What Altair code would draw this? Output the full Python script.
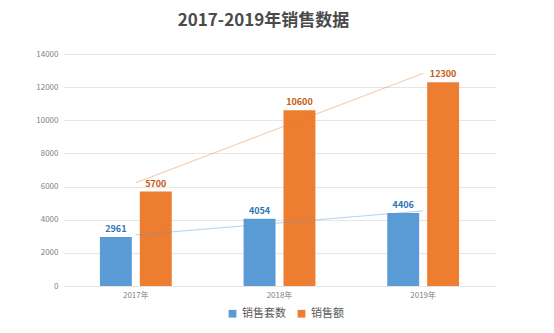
import altair as alt
import pandas as pd

years = [2017, 2018, 2019]
series_names = ["销售套数", "销售额"]
units_sold = [2961, 4054, 4406]
sales_amount = [5700, 10600, 12300]
colors = ["#5b9bd5", "#ed7d31"]
label_colors = ["#2e75b6", "#c55a11"]

rows = []
for i, y in enumerate(years):
    rows.append({"year": y, "series": series_names[0], "value": units_sold[i], "order": 0})
    rows.append({"year": y, "series": series_names[1], "value": sales_amount[i], "order": 1})
df = pd.DataFrame(rows)

font = "Noto Sans CJK SC"

x = alt.X("year:O", title=None,
          scale=alt.Scale(paddingInner=0.5, paddingOuter=0.25),
          axis=alt.Axis(labelExpr="datum.label + '年'", labelAngle=0, ticks=False,
                        domain=False, grid=False, labelFontSize=8, labelColor="#7f7f7f",
                        labelPadding=5, labelFont=font))
xoff = alt.XOffset("series:N", sort=series_names,
                   scale=alt.Scale(paddingInner=0.2, paddingOuter=0))
y = alt.Y("value:Q", title=None,
          scale=alt.Scale(domain=[0, 14000]),
          axis=alt.Axis(values=list(range(0, 14001, 2000)), format="d", ticks=False, domain=False,
                        labelFontSize=8, labelColor="#7f7f7f", labelPadding=6,
                        gridColor="#e6e6e6", labelFont=font))

base = alt.Chart(df)

bars = base.mark_bar().encode(
    x=x, xOffset=xoff, y=y,
    color=alt.Color("series:N", sort=series_names,
                    scale=alt.Scale(domain=series_names, range=colors),
                    legend=alt.Legend(title=None, orient="none", direction="horizontal",
                                      legendX=163, legendY=254, symbolType="square",
                                      symbolSize=60, labelFontSize=11, labelColor="#595959",
                                      labelFont=font, columnPadding=10, symbolStrokeWidth=0)),
)

labels = base.mark_text(dy=-8, fontSize=9, fontWeight="bold", font=font).encode(
    x=x, xOffset=xoff, y=y,
    text=alt.Text("value:Q", format="d"),
    color=alt.Color("series:N", scale=alt.Scale(domain=series_names, range=label_colors), legend=None),
)

trend = base.transform_regression(
    "year", "value", groupby=["series"], extent=[2017, 2019]
).mark_line(strokeWidth=1, opacity=0.45).encode(
    x=x, y=y,
    color=alt.Color("series:N", scale=alt.Scale(domain=series_names, range=colors), legend=None),
)

chart = alt.layer(bars, trend, labels).resolve_scale(color="independent").properties(
    width=431, height=232,
    background="white",
    autosize=alt.AutoSizeParams(type="none"),
    padding={"left": 64, "top": 54, "right": 59, "bottom": 47},
    title=alt.TitleParams("2017-2019年销售数据", fontSize=17, fontWeight=600,
                          color="#4a4a4a", font=font, offset=20, dx=-16, anchor="middle"),
).configure_view(stroke=None)

chart.save("out.html", embed_options={"renderer": "svg", "actions": False})
